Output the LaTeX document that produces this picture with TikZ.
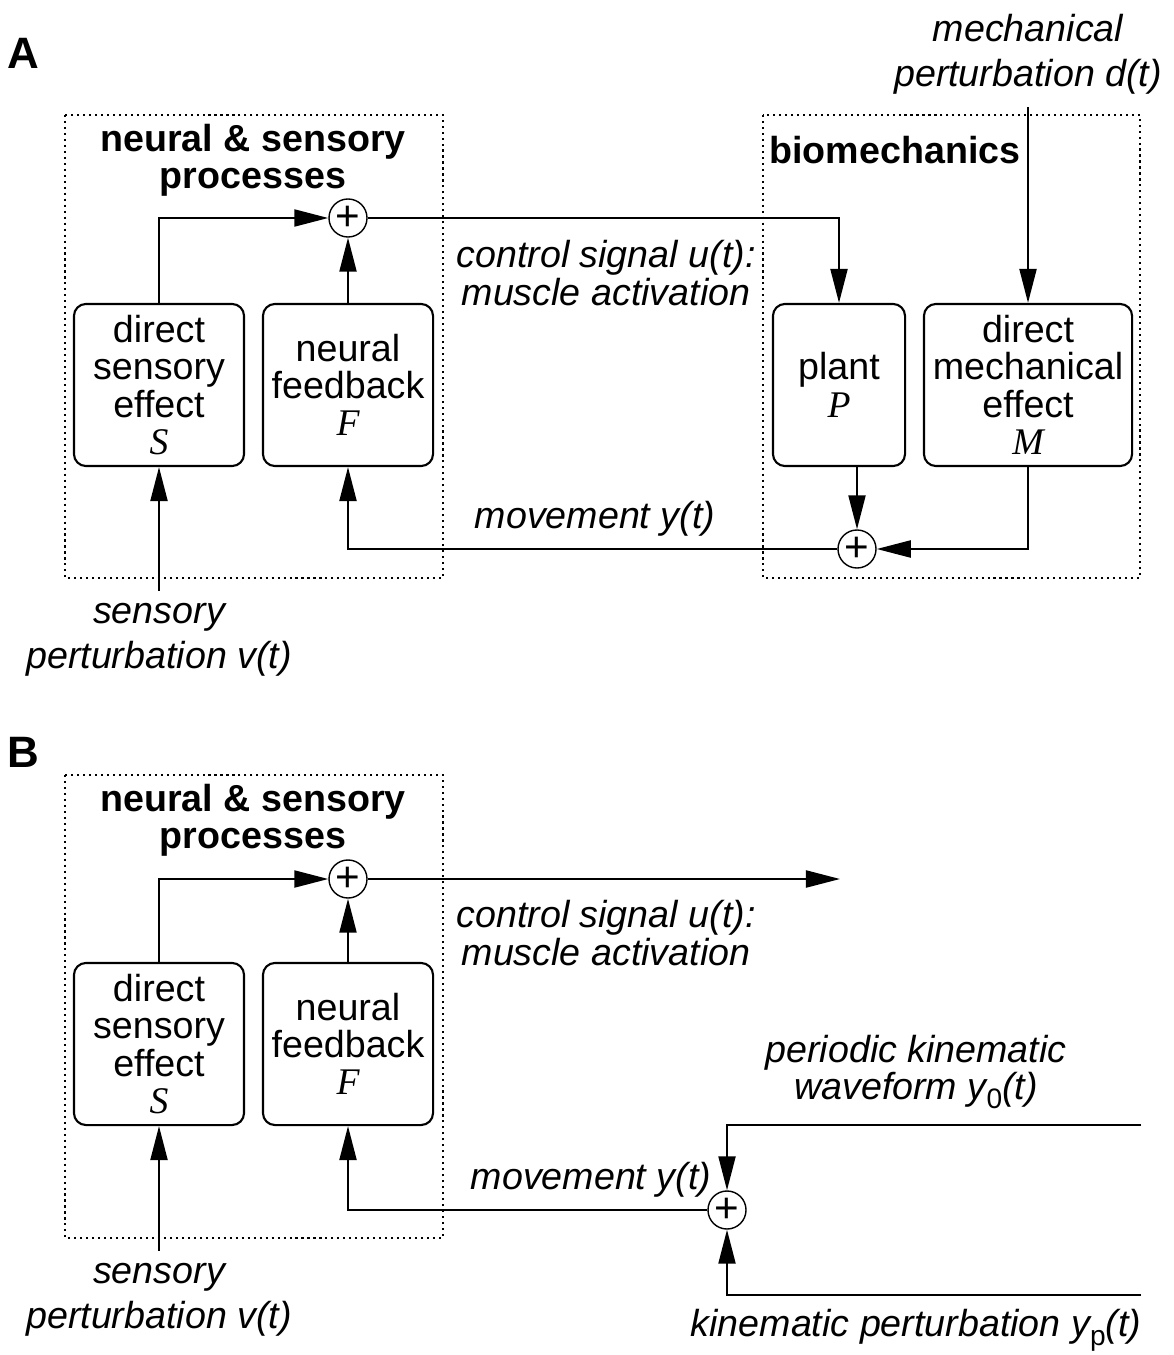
\documentclass[tikz,border=0pt]{standalone}
\usepackage{fontspec}
\setmainfont{Liberation Sans}
\newfontfamily\tms{Liberation Serif}
\usetikzlibrary{arrows.meta}
\newcommand{\sym}[1]{{\tms\itshape #1}}
\newcommand{\lowsub}[1]{\raisebox{-0.45ex}{\fontsize{8}{8}\selectfont\upshape #1}}

\begin{document}
\begin{tikzpicture}[x=0.01cm,y=-0.01cm,
    font=\fontsize{10.7}{10.6}\selectfont,
    >={Triangle[length=0.34cm,width=0.17cm]},
    line width=0.6pt,
    block/.style={draw,rounded corners=0.12cm,minimum height=1.62cm,align=center,inner sep=0pt},
    sum/.style={draw,circle,line width=0.4pt,minimum size=0.38cm,inner sep=0pt,font=\fontsize{12}{12}\selectfont},
    region/.style={draw,dash pattern=on 0.6pt off 1.1pt},
    lbl/.style={align=center,font=\fontsize{10.7}{10.6}\selectfont\itshape},
    widelbl/.style={lbl,font=\fontsize{10.7}{12.8}\selectfont\itshape},
    title/.style={align=center,font=\fontsize{10.7}{10.6}\selectfont\bfseries},
    panel/.style={font=\fontsize{12.5}{12.5}\selectfont\bfseries}]
          \useasboundingbox (0,0) rectangle (1173,1355);

          % panel A
          \node[panel] (labA) at (23,53) {A};
          \draw[region] (65,115) rectangle (443,578);
          \draw[region] (763,115) rectangle (1140,578);
          \node[title] (nsA) at (253,160) {neural \& sensory\\processes};
          \node[title] (bio) at (895,150) {biomechanics};

          \node[sum] (sumA) at (348,218) {+};
          \node[block,minimum width=1.7cm] (SA) at (159,385) {direct\\sensory\\effect\\\sym{S}};
          \node[block,minimum width=1.7cm] (FA) at (348,385) {neural\\feedback\\\sym{F}};
          \node[block,minimum width=1.32cm] (P) at (839,385) {plant\\\sym{P}};
          \node[block,minimum width=2.08cm] (M) at (1028,385) {direct\\mechanical\\effect\\\sym{M}};
          \node[sum] (sumy) at (857,549) {+};

          \node[widelbl] (dpert) at (1028,54) {mechanical\\perturbation d(t)};
          \node[widelbl] (vpertA) at (159,640) {sensory\\perturbation v(t)};
          \node[lbl] (uA) at (606,273) {control signal u(t):\\muscle activation};
          \node[lbl] (yA) at (595,519) {movement y(t)};

          \draw[->] (SA.north) |- (sumA);
          \draw[->] (FA) -- (sumA);
          \draw[->] (sumA) -| (P);
          \draw[->] (dpert) -- (M);
          \draw[->] (P.south -| sumy) -- (sumy);
          \draw[->] (M) |- (sumy);
          \draw[->] (sumy) -| (FA);
          \draw[->] (vpertA) -- (SA);

          % panel B
          \node[panel] (labB) at (23,752) {B};
          \draw[region] (65,775) rectangle (443,1238);
          \node[title] (nsB) at (253,820) {neural \& sensory\\processes};

          \node[sum] (sumB) at (348,879) {+};
          \node[block,minimum width=1.7cm] (SB) at (159,1044) {direct\\sensory\\effect\\\sym{S}};
          \node[block,minimum width=1.7cm] (FB) at (348,1044) {neural\\feedback\\\sym{F}};
          \node[sum] (sumk) at (727,1210) {+};

          \coordinate (uend) at (840,879);
          \coordinate (y0end) at (1141,1125);
          \coordinate (ypend) at (1141,1295);

          \node[widelbl] (vpertB) at (159,1300) {sensory\\perturbation v(t)};
          \node[lbl] (uB) at (606,933) {control signal u(t):\\muscle activation};
          \node[lbl] (yB) at (591,1180) {movement y(t)};
          \node[lbl] (y0) at (916,1072) {periodic kinematic\\waveform y\lowsub{0}(t)};
          \node[lbl] (yp) at (916,1330) {kinematic perturbation y\lowsub{p}(t)};

          \draw[->] (SB.north) |- (sumB);
          \draw[->] (FB) -- (sumB);
          \draw[->] (sumB) -- (uend);
          \draw[->] (y0end) -| (sumk);
          \draw[->] (ypend) -| (sumk);
          \draw[->] (sumk) -| (FB);
          \draw[->] (vpertB) -- (SB);
        \end{tikzpicture}
\end{document}
